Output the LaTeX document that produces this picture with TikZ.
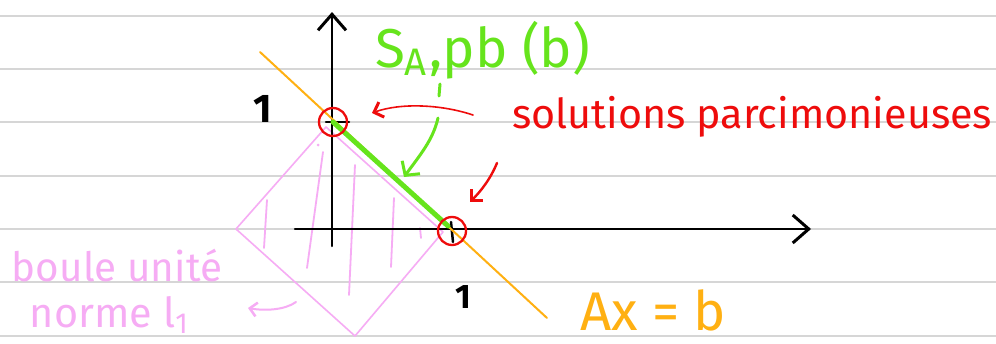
\documentclass[tikz,border=0pt]{standalone}
\usepackage{graphicx}
\usepackage{fontspec}
\setmainfont{Fira Sans}
\usetikzlibrary{arrows.meta}
\definecolor{rulegray}{RGB}{214,214,214}
\definecolor{hgreen}{RGB}{102,228,28}
\definecolor{hred}{RGB}{238,12,12}
\definecolor{horange}{RGB}{255,176,18}
\definecolor{hpink}{RGB}{246,172,244}
\begin{document}
\begin{tikzpicture}[x=1pt,y=-1pt,line cap=round,line join=round,
  ruled/.style={rulegray,line width=2.5pt},
  axisline/.style={black,line width=2.5pt,-{Straight Barb[length=16pt,width=28pt,line width=3pt]}},
  tick/.style={black,line width=2.5pt},
  marker/.style={circle,draw=hred,line width=2.3pt,minimum size=28pt,inner sep=0pt},
  hatch/.style={hpink,line width=1.8pt},
  pinkarrow/.style={hpink,line width=2pt,-{Straight Barb[length=7pt,width=14pt,line width=2.5pt]}},
  redarrow/.style={hred,line width=1.6pt,-{Straight Barb[length=8pt,width=16pt,line width=3pt]}},
  greenarrow/.style={hgreen,line width=3pt,-{Straight Barb[length=10pt,width=22pt,line width=3pt]}},
  lbl/.style={inner sep=0pt,outer sep=0pt}]
\useasboundingbox (0,0) rectangle (996,343);
\fill[white] (0,0) rectangle (996,343);
% ruled paper
\foreach \yy in {16,69,122,176,229,282,336}
  \draw[ruled] (0,\yy) -- (996,\yy);
% unit ball (pink diamond) with hatching
\coordinate (dT) at (326,127);
\coordinate (dR) at (443,232);
\coordinate (dB) at (355,336);
\coordinate (dL) at (236,229);
\draw[hpink,line width=1.6pt] (dT) -- (dR) -- (dB) -- (dL) -- cycle;
\draw[hatch] (267,200) -- (264,248);
\draw[hatch] (323,152) -- (307,268);
\draw[hatch] (355,165) -- (349,295);
\draw[hatch] (394,198) -- (391,267);
\draw[hatch] (420,228) -- (421,238);
\fill[hpink] (318,145) circle (1.5pt);
% axes
\coordinate (O) at (332,229);
\coordinate (ybot) at (332,246);
\coordinate (ytop) at (332,12);
\coordinate (xleft) at (295,229);
\coordinate (xright) at (811,229);
\draw[axisline] (ybot) -- (ytop);
\draw[axisline] (xleft) -- (xright);
\coordinate (e2) at (333,122);
\coordinate (e1) at (452,229);
\draw[tick] (326,122) -- (349,122);
\draw[tick] (451,222) -- (453,242);
% affine line Ax=b
\coordinate (La) at (260,52);
\coordinate (Lb) at (547,318);
\draw[horange,line width=2pt] (La) -- (Lb);
% solution set segment
\draw[hgreen,line width=5pt] (e2) -- (448,226);
% sparse solutions circles
\node[marker] (c1) at (333,122) {};
\node[marker] (c2) at (452,231) {};
% labels
\node[lbl,anchor=center] (one1) at (263,109) {\fontsize{40}{40}\selectfont\bfseries 1};
\node[lbl,anchor=center] (one2) at (463,297) {\fontsize{34}{34}\selectfont\bfseries 1};
\node[lbl,anchor=base west,text=hgreen] (Slbl) at (375,67)
  {\resizebox{215pt}{!}{S\textsubscript{A},pb (b)}};
\node[lbl,anchor=base west,text=hred] (sol) at (512,128)
  {\resizebox{480pt}{!}{solutions parcimonieuses}};
\node[lbl,anchor=base west,text=horange] (eq) at (580,330)
  {\resizebox{146pt}{!}{Ax = b}};
\node[lbl,anchor=base west,text=hpink] (boule) at (12,281)
  {\resizebox{210pt}{!}{boule unité}};
\node[lbl,anchor=base west,text=hpink] (norme) at (30,327)
  {\resizebox{160pt}{!}{norme l\textsubscript{1}}};
% arrows
\coordinate (ra1s) at (473,115);
\coordinate (ra1e) at (372,113);
\draw[redarrow] (ra1s) .. controls (440,104) and (400,103) .. (ra1e);
\coordinate (ra2s) at (497,163);
\coordinate (ra2e) at (470,202);
\draw[redarrow,line width=2.4pt] (ra2s) .. controls (490,180) and (480,192) .. (ra2e);
\coordinate (ga0) at (440,84);
\coordinate (ga0b) at (439,96);
\draw[hgreen,line width=3pt] (ga0) -- (ga0b);
\coordinate (ga1) at (438,118);
\coordinate (ga2) at (404,177);
\draw[greenarrow] (ga1) .. controls (433,140) and (420,155) .. (ga2);
\coordinate (pa1) at (296,302);
\coordinate (pa2) at (248,308);
\draw[pinkarrow] (pa1) .. controls (285,310) and (265,311) .. (pa2);
\end{tikzpicture}
\end{document}
